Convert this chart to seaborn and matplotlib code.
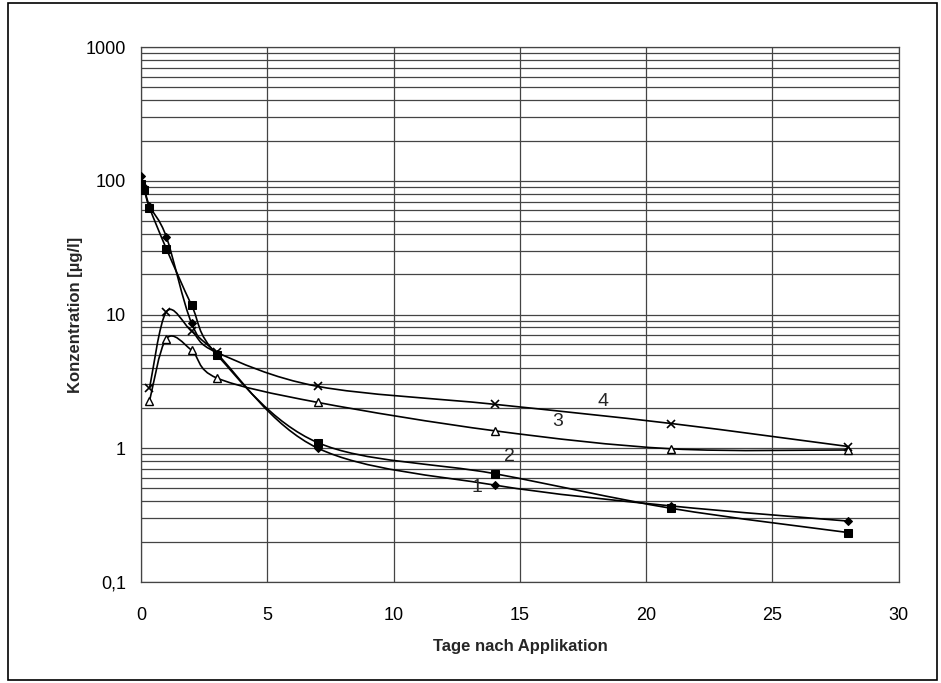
import numpy as np
import pandas as pd
import matplotlib
matplotlib.use("Agg")
import matplotlib.pyplot as plt
import seaborn as sns
from matplotlib.path import Path
from matplotlib.patches import PathPatch
from matplotlib.ticker import FixedLocator, LogLocator, NullFormatter, FixedFormatter

# ---- data ----
x_12 = [0, 0.125, 0.33, 1, 2, 3, 7, 14, 21, 28]
series1 = [108, 90, 65, 38, 8.6, 5.1, 1.0, 0.53, 0.37, 0.285]
series2 = [95, 85, 63, 31, 11.7, 5.0, 1.1, 0.645, 0.355, 0.234]
x_34 = [0.33, 1, 2, 3, 7, 14, 21, 28]
series3 = [2.25, 6.6, 5.4, 3.35, 2.2, 1.35, 0.99, 0.97]
series4 = [2.8, 10.5, 7.5, 5.2, 2.9, 2.13, 1.53, 1.03]
line_labels = ["1", "2", "3", "4"]
label_pos_x = [13.3, 14.6, 16.5, 18.3]
label_pos_y = [0.51, 0.86, 1.58, 2.25]
x_ticks = [0, 5, 10, 15, 20, 25, 30]
y_ticks = [0.1, 1, 10, 100, 1000]
y_ticklabels = ["0,1", "1", "10", "100", "1000"]

df = pd.concat([
    pd.DataFrame({"x": x_12, "y": series1, "s": "1"}),
    pd.DataFrame({"x": x_12, "y": series2, "s": "2"}),
    pd.DataFrame({"x": x_34, "y": series3, "s": "3"}),
    pd.DataFrame({"x": x_34, "y": series4, "s": "4"}),
])

sns.set_style("white")
plt.rcParams["font.family"] = ["Liberation Sans", "DejaVu Sans"]

fig = plt.figure(figsize=(9.41, 6.83), dpi=100)
ax = fig.add_axes([0.150, 0.148, 0.805, 0.783])

ax.set_yscale("log")
ax.set_xlim(0, 30)
ax.set_ylim(0.1, 1000)


def smooth_path(xs, ys):
    """Excel-style smoothed line: cubic Bezier segments (Catmull-Rom, tension 1/6)
    computed in axis display space, handed to matplotlib as a Path."""
    pts = ax.transData.transform(np.column_stack([xs, ys]))
    n = len(pts)
    verts = [pts[0]]
    codes = [Path.MOVETO]
    for i in range(n - 1):
        p0 = pts[i - 1] if i > 0 else pts[i]
        p1 = pts[i]
        p2 = pts[i + 1]
        p3 = pts[i + 2] if i + 2 < n else pts[i + 1]
        c1 = p1 + (p2 - p0) / 6.0
        c2 = p2 - (p3 - p1) / 6.0
        verts += [c1, c2, p2]
        codes += [Path.CURVE4] * 3
    return Path(np.array(verts), codes)


styles = {
    "1": dict(marker="D", ms=4.5, mfc="black", mec="black"),
    "2": dict(marker="s", ms=5.5, mfc="black", mec="black"),
    "3": dict(marker="^", ms=6, mfc="white", mec="black", mew=1),
    "4": dict(marker="x", ms=6, mfc="black", mec="black", mew=1.2),
}

fig.canvas.draw()
for key, st in styles.items():
    sub = df[df["s"] == key]
    path = smooth_path(sub["x"].to_numpy(), sub["y"].to_numpy())
    ax.add_patch(PathPatch(path, transform=None, fill=False, edgecolor="black",
                           lw=1.2, zorder=2))
    sns.lineplot(data=sub, x="x", y="y", ax=ax, color="black", linestyle="",
                 estimator=None, sort=False, zorder=3, **st)

ax.xaxis.set_major_locator(FixedLocator(x_ticks))
ax.yaxis.set_major_locator(FixedLocator(y_ticks))
ax.yaxis.set_major_formatter(FixedFormatter(y_ticklabels))
ax.yaxis.set_minor_locator(LogLocator(base=10, subs=np.arange(2, 10)))
ax.yaxis.set_minor_formatter(NullFormatter())

ax.grid(True, which="major", axis="both", color="#444444", lw=0.9)
ax.grid(True, which="minor", axis="y", color="#444444", lw=0.9)
ax.set_axisbelow(True)
for sp in ax.spines.values():
    sp.set_color("#444444")
    sp.set_linewidth(0.9)

ax.tick_params(axis="both", which="major", length=5, direction="out", labelsize=13,
               color="#333333", labelcolor="black")
ax.tick_params(axis="x", which="major", pad=13)
ax.tick_params(axis="y", which="major", pad=6)
ax.tick_params(axis="y", which="minor", length=0)
ax.set_xlabel("Tage nach Applikation", fontsize=12, fontweight="bold", labelpad=11)
ax.set_ylabel("Konzentration [µg/l]", fontsize=12, fontweight="bold", labelpad=2)

for t, lx, ly in zip(line_labels, label_pos_x, label_pos_y):
    ax.text(lx, ly, t, fontsize=14, ha="center", va="center")

fig.patches.append(plt.Rectangle((0.008, 0.004), 0.988, 0.992, transform=fig.transFigure,
                                 fill=False, edgecolor="black", lw=1.2))

fig.savefig("out.png", dpi=100)
